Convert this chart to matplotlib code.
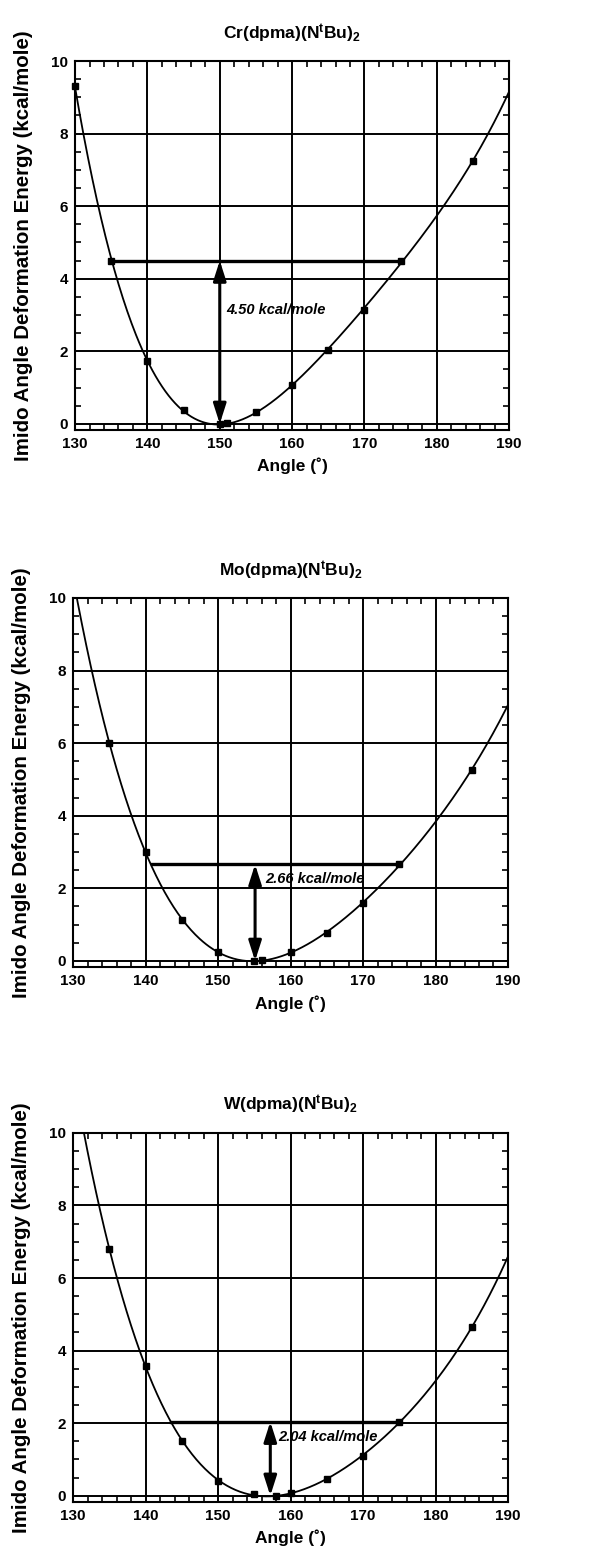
import numpy as np
import matplotlib
matplotlib.use("Agg")
import matplotlib.pyplot as plt
from matplotlib.ticker import MultipleLocator

plt.rcParams['font.family'] = ['Liberation Sans', 'DejaVu Sans']
plt.rcParams['font.weight'] = 'bold'
plt.rcParams['mathtext.fontset'] = 'custom'
plt.rcParams['mathtext.rm'] = 'Liberation Sans:bold'
plt.rcParams['mathtext.bf'] = 'Liberation Sans:bold'
plt.rcParams['mathtext.it'] = 'Liberation Sans:bold:italic'

# Computed imido bending energies (kcal/mole) vs. M-N-C angle (deg)
titles = [r"Cr(dpma)(N$^{\mathrm{t}}$Bu)$_{\mathrm{2}}$",
          r"Mo(dpma)(N$^{\mathrm{t}}$Bu)$_{\mathrm{2}}$",
          r"W(dpma)(N$^{\mathrm{t}}$Bu)$_{\mathrm{2}}$"]

cr_angle = [130, 135, 140, 145, 150, 151, 155, 160, 165, 170, 175, 185]
cr_energy = [9.31, 4.50, 1.74, 0.37, 0.00, 0.01, 0.32, 1.06, 2.04, 3.14, 4.50, 7.25]

mo_angle = [135, 140, 145, 150, 155, 156, 160, 165, 170, 175, 185]
mo_energy = [6.00, 2.99, 1.13, 0.24, 0.00, 0.03, 0.24, 0.76, 1.59, 2.66, 5.27]

w_angle = [135, 140, 145, 150, 155, 158, 160, 165, 170, 175, 185]
w_energy = [6.79, 3.57, 1.52, 0.41, 0.04, 0.00, 0.08, 0.45, 1.10, 2.04, 4.64]

angles = [cr_angle, mo_angle, w_angle]
energies = [cr_energy, mo_energy, w_energy]

# barrier levels, bar extents and where the arrow sits
barriers = [4.50, 2.66, 2.04]
bar_left = [135.0, 140.9, 143.5]
bar_right = [175.0, 175.0, 175.0]
arrow_x = [150.0, 155.1, 157.2]
label_pos = [(150.9, 3.14), (156.5, 2.25), (158.3, 1.63)]

fig = plt.figure(figsize=(6.15, 15.54), dpi=100)

# axes boxes in figure fractions (left, bottom, width, height)
boxes = [(0.122, 0.7233, 0.706, 0.2374),
         (0.119, 0.3777, 0.707, 0.2375),
         (0.119, 0.0335, 0.707, 0.2375)]

for i in range(3):
    ax = fig.add_axes(boxes[i])
    x = np.array(angles[i], dtype=float)
    y = np.array(energies[i], dtype=float)

    # smooth fitted curve through the computed points
    coef = np.polyfit(x, y, 4)
    xs = np.linspace(130, 190, 400)
    ax.plot(xs, np.polyval(coef, xs), color='black', lw=1.3, zorder=3)
    ax.plot(x, y, 's', color='black', ms=5, zorder=4, clip_on=False)

    # barrier bar and double-headed arrow
    ax.plot([bar_left[i], bar_right[i]], [barriers[i], barriers[i]],
            color='black', lw=2.4, zorder=5)
    ax.annotate('', xy=(arrow_x[i], barriers[i]), xytext=(arrow_x[i], 0),
                arrowprops=dict(arrowstyle='<|-|>,head_length=1.0,head_width=0.32',
                                color='black', lw=2.2, mutation_scale=12,
                                shrinkA=0, shrinkB=0),
                zorder=6)
    ax.text(label_pos[i][0], label_pos[i][1], "%.2f kcal/mole" % barriers[i],
            fontsize=10.5, fontweight='bold', fontstyle='italic',
            va='center', ha='left', zorder=7)

    ax.set_xlim(130, 190)
    ax.set_ylim(-0.17, 10)
    ax.set_xticks(np.arange(130, 191, 10))
    ax.set_yticks(np.arange(0, 11, 2))
    ax.xaxis.set_minor_locator(MultipleLocator(2))
    ax.yaxis.set_minor_locator(MultipleLocator(0.5))
    ax.grid(True, which='major', color='black', lw=1.4)
    ax.tick_params(which='both', direction='in', top=True, right=True,
                   labelsize=11, width=1.2)
    ax.tick_params(which='major', length=0, pad=5)
    ax.tick_params(which='minor', length=4)
    for lab in ax.get_xticklabels() + ax.get_yticklabels():
        lab.set_fontweight('bold')
    for sp in ax.spines.values():
        sp.set_linewidth(1.5)

    ax.set_title(titles[i], fontsize=12.5, fontweight='bold', pad=16)
    ax.set_xlabel("Angle (˚)", fontsize=12.5, fontweight='bold', labelpad=5)
    ax.set_ylabel("Imido Angle Deformation Energy (kcal/mole)", fontsize=14.8,
                  fontweight='bold', labelpad=13)

fig.savefig("out.png", dpi=100)
